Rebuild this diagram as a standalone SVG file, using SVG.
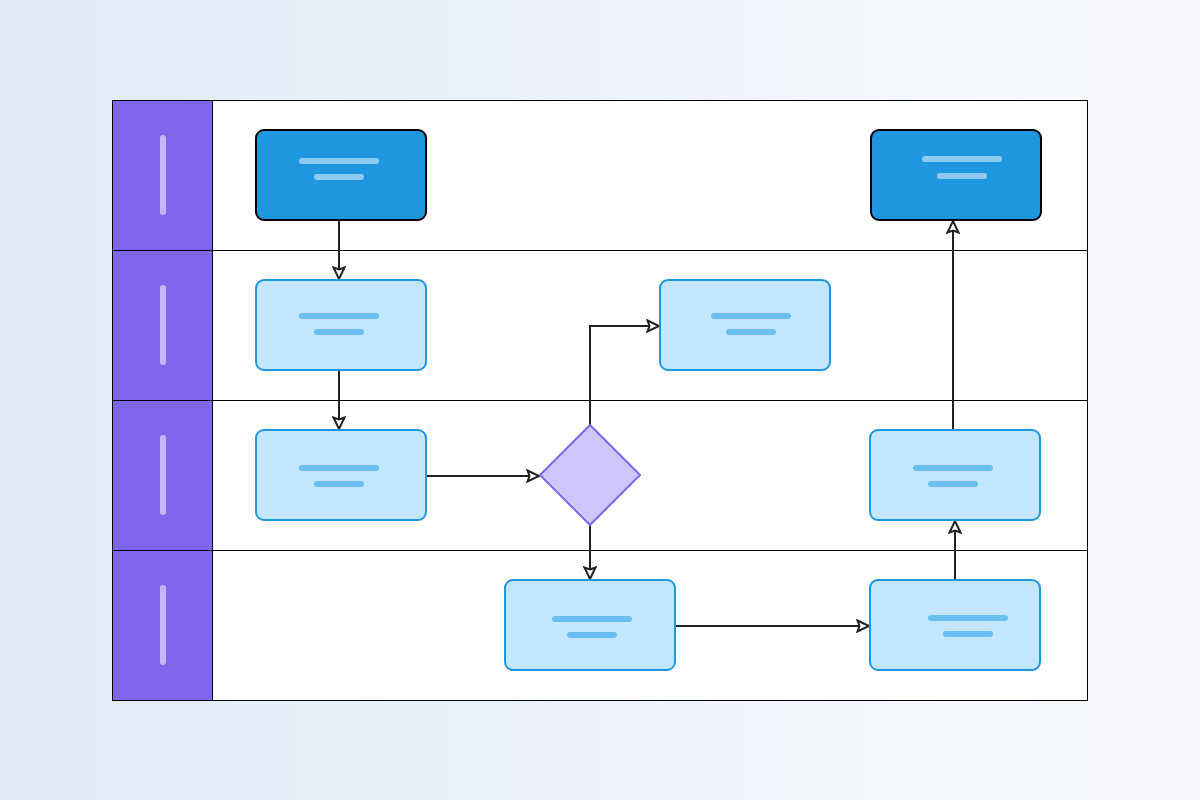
<svg xmlns="http://www.w3.org/2000/svg" width="1200" height="800" viewBox="0 0 1200 800">
<defs>
<linearGradient id="bg" x1="0" y1="0" x2="1" y2="0">
<stop offset="0" stop-color="#E3EBF5"/>
<stop offset="1" stop-color="#F8FAFD"/>
</linearGradient>
<marker id="arr" markerWidth="16" markerHeight="14" refX="13" refY="7" orient="auto" markerUnits="userSpaceOnUse">
<path d="M1.5,1.5 L13,7 L1.5,12.5 L3.5,7 Z" fill="#fff" stroke="#222" stroke-width="2" stroke-linejoin="miter"/>
</marker>
<style>
.lane{fill:#fff;stroke:#000;stroke-width:1}
.hdr{fill:#7F66EA;stroke:#000;stroke-width:1}
.bar{stroke:#C4B5F7;stroke-width:6;stroke-linecap:round}
.dark{fill:#1E96E0;stroke:#000;stroke-width:2}
.light{fill:#C2E6FC;stroke:#1E96E0;stroke-width:2}
.tl{stroke:#8ECBF3;stroke-width:6;stroke-linecap:round}
.tll{stroke:#6ABFF0;stroke-width:6;stroke-linecap:round}
.dia{fill:#D0C6FA;stroke:#7F66EA;stroke-width:2}
.con{fill:none;stroke:#222;stroke-width:2;marker-end:url(#arr)}
</style>
</defs>
<rect width="1200" height="800" fill="url(#bg)"/>
<g id="lanes">
<rect class="lane" x="112.5" y="100.5" width="975" height="150"/>
<rect class="lane" x="112.5" y="250.5" width="975" height="150"/>
<rect class="lane" x="112.5" y="400.5" width="975" height="150"/>
<rect class="lane" x="112.5" y="550.5" width="975" height="150"/>
<rect class="hdr" x="112.5" y="100.5" width="100" height="150"/>
<rect class="hdr" x="112.5" y="250.5" width="100" height="150"/>
<rect class="hdr" x="112.5" y="400.5" width="100" height="150"/>
<rect class="hdr" x="112.5" y="550.5" width="100" height="150"/>
<line class="bar" x1="163" y1="138" x2="163" y2="212"/>
<line class="bar" x1="163" y1="288" x2="163" y2="362"/>
<line class="bar" x1="163" y1="438" x2="163" y2="512"/>
<line class="bar" x1="163" y1="588" x2="163" y2="662"/>
</g>
<g id="connectors">
<path class="con" d="M339,220 L339,279"/>
<path class="con" d="M339,370 L339,429"/>
<path class="con" d="M426,476 L539,476"/>
<path class="con" d="M590,425 L590,326 L659,326"/>
<path class="con" d="M590,525 L590,579"/>
<path class="con" d="M675,626 L869,626"/>
<path class="con" d="M955,580 L955,521"/>
<path class="con" d="M953,430 L953,221"/>
</g>
<g id="n1"><rect class="dark" x="256" y="130" width="170" height="90" rx="8"/><line class="tl" x1="302" y1="161" x2="376" y2="161"/><line class="tl" x1="317" y1="177" x2="361" y2="177"/></g>
<g id="n2"><rect class="dark" x="871" y="130" width="170" height="90" rx="8"/><line class="tl" x1="925" y1="159" x2="999" y2="159"/><line class="tl" x1="940" y1="176" x2="984" y2="176"/></g>
<g id="n3"><rect class="light" x="256" y="280" width="170" height="90" rx="8"/><line class="tll" x1="302" y1="316" x2="376" y2="316"/><line class="tll" x1="317" y1="332" x2="361" y2="332"/></g>
<g id="n4"><rect class="light" x="660" y="280" width="170" height="90" rx="8"/><line class="tll" x1="714" y1="316" x2="788" y2="316"/><line class="tll" x1="729" y1="332" x2="773" y2="332"/></g>
<g id="n5"><rect class="light" x="256" y="430" width="170" height="90" rx="8"/><line class="tll" x1="302" y1="468" x2="376" y2="468"/><line class="tll" x1="317" y1="484" x2="361" y2="484"/></g>
<g id="n6"><polygon class="dia" points="590,425 640,475 590,525 540,475"/></g>
<g id="n7"><rect class="light" x="870" y="430" width="170" height="90" rx="8"/><line class="tll" x1="916" y1="468" x2="990" y2="468"/><line class="tll" x1="931" y1="484" x2="975" y2="484"/></g>
<g id="n8"><rect class="light" x="505" y="580" width="170" height="90" rx="8"/><line class="tll" x1="555" y1="619" x2="629" y2="619"/><line class="tll" x1="570" y1="635" x2="614" y2="635"/></g>
<g id="n9"><rect class="light" x="870" y="580" width="170" height="90" rx="8"/><line class="tll" x1="931" y1="618" x2="1005" y2="618"/><line class="tll" x1="946" y1="634" x2="990" y2="634"/></g>
</svg>
